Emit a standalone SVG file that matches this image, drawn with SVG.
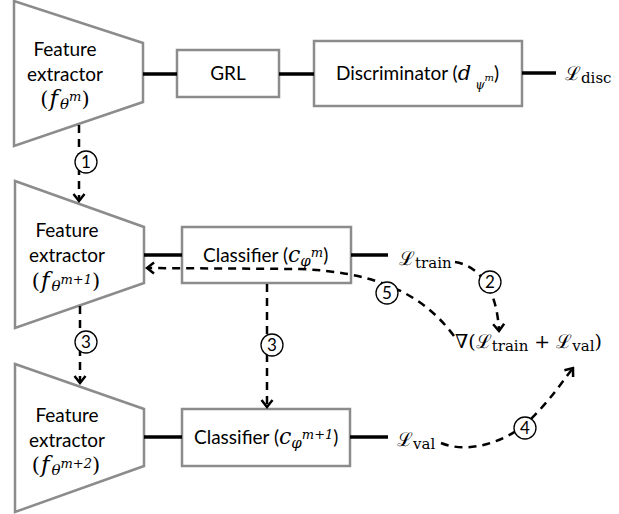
<svg xmlns="http://www.w3.org/2000/svg" width="619" height="514" viewBox="0 0 619 514">
<style>
.box{fill:#fff;stroke:#8c8c8c;stroke-width:2.5}
.solid{stroke:#000;stroke-width:3.5;fill:none}
.dash{stroke:#000;stroke-width:2.5;fill:none;stroke-dasharray:8 6}
.lbl{font-family:Lato,"Open Sans","Liberation Sans",sans-serif;font-size:19px;fill:#000}
.math{font-family:"DejaVu Serif","Liberation Serif",serif;font-size:19px;fill:#000}
.mi{font-family:"DejaVu Serif","Liberation Serif",serif;font-style:italic}
.num{font-family:Lato,"Liberation Sans",sans-serif;font-size:17px;fill:#000;text-anchor:middle}
.circ{fill:#fff;stroke:#000;stroke-width:1.3}
</style>
<defs>
<marker id="ah" viewBox="-10 -8 12 16" refX="0" refY="0" markerWidth="12" markerHeight="16" markerUnits="userSpaceOnUse" orient="auto">
<path d="M-7,-5.5 L0,0 L-7,5.5" fill="none" stroke="#000" stroke-width="2.5"/>
</marker>
</defs>

<g id="fe1">
<polygon class="box" points="14,1 143,43 143,102 14,146"/>
<text class="lbl" x="65" y="56" text-anchor="middle">Feature</text>
<text class="lbl" x="65" y="81" text-anchor="middle">extractor</text>
<text class="math" x="65" y="106" text-anchor="middle" style="font-size:21px">(<tspan class="mi" style="font-size:23px" dx="1">f</tspan><tspan class="mi" style="font-size:15px" dx="2" dy="3">θ</tspan><tspan class="mi" style="font-size:13px" dy="-8">m</tspan><tspan dy="5">)</tspan></text>
</g>

<g id="grl">
<rect class="box" x="177" y="50" width="102" height="47"/>
<text class="lbl" x="228" y="80" text-anchor="middle">GRL</text>
</g>

<g id="disc">
<rect class="box" x="314" y="41" width="208" height="65"/>
<text class="lbl" x="336" y="80">Discriminator (<tspan class="mi" style="font-size:21px">d</tspan><tspan class="mi" style="font-size:12px" dx="4" dy="9">ψ</tspan><tspan class="mi" style="font-size:10px" dy="-8">m</tspan><tspan dy="-1">)</tspan></text>
</g>

<g id="ldisc">
<text class="math" x="565" y="80">ℒ<tspan style="font-size:15px" dy="3">disc</tspan></text>
</g>

<g id="fe2">
<polygon class="box" points="15,181 144,227 144,283 15,328"/>
<text class="lbl" x="67" y="237" text-anchor="middle">Feature</text>
<text class="lbl" x="67" y="262" text-anchor="middle">extractor</text>
<text class="math" x="66" y="288" text-anchor="middle" style="font-size:21px">(<tspan class="mi" style="font-size:23px" dx="1">f</tspan><tspan class="mi" style="font-size:15px" dx="2" dy="3">θ</tspan><tspan class="mi" style="font-size:13px" dy="-7">m+1</tspan><tspan dy="4">)</tspan></text>
</g>

<g id="cls1">
<rect class="box" x="182" y="227" width="169" height="56"/>
<text class="lbl" x="203" y="262">Classifier (<tspan class="mi" style="font-size:22px">c</tspan><tspan class="mi" style="font-size:15px" dy="4">φ</tspan><tspan class="mi" style="font-size:13px" dy="-9">m</tspan><tspan dy="5">)</tspan></text>
</g>

<g id="ltrain">
<text class="math" x="399" y="265">ℒ<tspan style="font-size:15px" dy="3">train</tspan></text>
</g>

<g id="grad">
<text class="math" x="455" y="348">∇(ℒ<tspan style="font-size:15px" dy="3">train</tspan><tspan dy="-3"> + ℒ</tspan><tspan style="font-size:15px" dy="3">val</tspan><tspan dy="-3">)</tspan></text>
</g>

<g id="fe3">
<polygon class="box" points="15,364 144,409 144,466 15,512"/>
<text class="lbl" x="67" y="422" text-anchor="middle">Feature</text>
<text class="lbl" x="67" y="447" text-anchor="middle">extractor</text>
<text class="math" x="66" y="472" text-anchor="middle" style="font-size:21px">(<tspan class="mi" style="font-size:23px" dx="1">f</tspan><tspan class="mi" style="font-size:15px" dx="2" dy="3">θ</tspan><tspan class="mi" style="font-size:13px" dy="-7">m+2</tspan><tspan dy="4">)</tspan></text>
</g>

<g id="cls2">
<rect class="box" x="182" y="409" width="168" height="57"/>
<text class="lbl" x="194" y="444">Classifier (<tspan class="mi" style="font-size:22px">c</tspan><tspan class="mi" style="font-size:15px" dy="4">φ</tspan><tspan class="mi" style="font-size:13px" dy="-9">m+1</tspan><tspan dy="5">)</tspan></text>
</g>

<g id="lval">
<text class="math" x="397" y="446">ℒ<tspan style="font-size:15px" dy="3">val</tspan></text>
</g>

<g id="connectors">
<line class="solid" x1="143" y1="74" x2="177" y2="74"/>
<line class="solid" x1="279" y1="74" x2="314" y2="74"/>
<line class="solid" x1="522" y1="73" x2="556" y2="73"/>
<line class="solid" x1="144" y1="255" x2="182" y2="255"/>
<line class="solid" x1="351" y1="255" x2="388" y2="255"/>
<line class="solid" x1="144" y1="437" x2="182" y2="437"/>
<line class="solid" x1="350" y1="437" x2="388" y2="437"/>
<line class="dash" x1="79" y1="125" x2="79" y2="201" marker-end="url(#ah)"/>
<line class="dash" x1="80" y1="306" x2="80" y2="383" marker-end="url(#ah)"/>
<line class="dash" x1="267" y1="284" x2="267" y2="407" marker-end="url(#ah)"/>
<path class="dash" d="M455,262 C480,266 497,290 499,331" marker-end="url(#ah)"/>
<path class="dash" d="M454,336 C420,290 370,272 300,269 L147,268" marker-end="url(#ah)"/>
<path class="dash" d="M441,443 C470,455 510,440 530,420 C550,400 560,385 573,368" marker-end="url(#ah)"/>
</g>

<g id="step1"><circle class="circ" cx="86" cy="162" r="11"/><text class="num" x="86" y="168">1</text></g>
<g id="step2"><circle class="circ" cx="490" cy="282" r="11"/><text class="num" x="490" y="288">2</text></g>
<g id="step3a"><circle class="circ" cx="86" cy="342" r="11"/><text class="num" x="86" y="348">3</text></g>
<g id="step3b"><circle class="circ" cx="272" cy="345" r="11"/><text class="num" x="272" y="351">3</text></g>
<g id="step4"><circle class="circ" cx="525" cy="428" r="11"/><text class="num" x="525" y="434">4</text></g>
<g id="step5"><circle class="circ" cx="387" cy="293" r="11"/><text class="num" x="387" y="299">5</text></g>
</svg>
